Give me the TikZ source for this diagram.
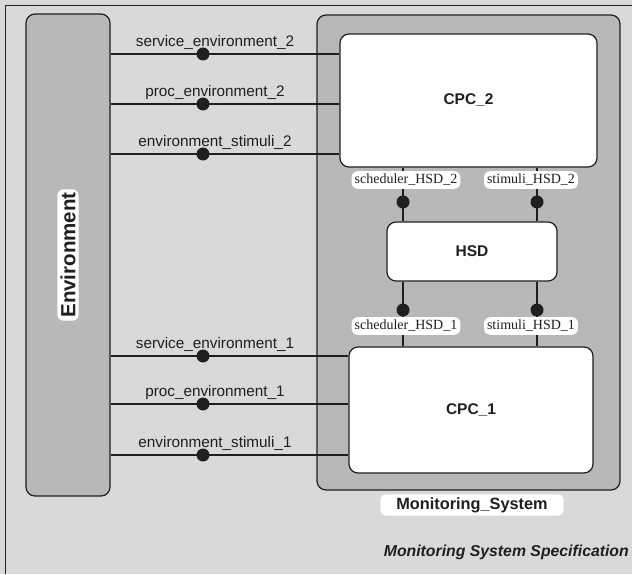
\documentclass[tikz,border=0pt]{standalone}
\usepackage{fontspec}
\setmainfont{Liberation Sans}
\newfontfamily\portfont{Liberation Serif}
\usetikzlibrary{positioning,calc}
\definecolor{paper}{gray}{0.85}
\definecolor{shade}{gray}{0.72}
\definecolor{ink}{gray}{0.12}

\begin{document}
\begin{tikzpicture}[
    x=1pt, y=1pt,
    every node/.style={
        inner sep=2pt,
        text=ink,
        font=\fontsize{15.3}{17}\selectfont
    },
    frame/.style={draw=ink, line width=1.2pt, rounded corners=9pt, fill=shade},
    block/.style={draw=ink, line width=1.2pt, rounded corners=9pt, fill=white,
        font=\fontsize{15.5}{18}\selectfont\bfseries},
    pill/.style={fill=white, rounded corners=6pt, inner sep=3pt},
    port/.style={circle, fill=ink, minimum size=13pt, inner sep=0pt},
    wire/.style={draw=ink, line width=1.3pt}
]
\useasboundingbox (0,0) rectangle (632,574);
\fill[paper] (0,0) rectangle (632,574);
\draw[ink, line width=1pt] (5,0) -- (5,568) -- (632,568);

% environment and system
\node[frame, minimum width=84pt, minimum height=482pt] (env) at (68,319) {};
\node[pill, rotate=90, font=\fontsize{20.5}{22}\selectfont\bfseries] (envlab) at (env.center) {Environment};
\node[frame, minimum width=303pt, minimum height=475pt] (mon) at (468.5,321.5) {};
\node[pill, font=\fontsize{16.3}{18}\selectfont\bfseries, inner xsep=16pt] (monlab) at (472,69) {Monitoring\_System};

% components
\node[block, minimum width=257pt, minimum height=133pt] (cpc2) at (468.5,473.5) {CPC\_2};
\node[block, minimum width=170pt, minimum height=59pt] (hsd) at (472,322.5) {HSD};
\node[block, minimum width=244pt, minimum height=126pt] (cpc1) at (471,164) {CPC\_1};

% signals to the environment
\foreach \nm/\yy/\tgt/\lab in {
    se2/520/cpc2/service\_environment\_2,
    pe2/470/cpc2/proc\_environment\_2,
    es2/420/cpc2/environment\_stimuli\_2,
    se1/218/cpc1/service\_environment\_1,
    pe1/170/cpc1/proc\_environment\_1,
    es1/119/cpc1/environment\_stimuli\_1}{
    \coordinate (\nm) at (203,\yy);
    \draw[wire] (env.east |- \nm) -- (\tgt.west |- \nm);
    \node[port] at (\nm) {};
    \node[above=2pt of \nm, xshift=12pt] (\nm lab) {\lab};
}

% signals to the HSD
\foreach \nm/\xx/\yy/\top/\bot/\lx/\ly/\lab in {
    sh2/403/372/cpc2/hsd/406/394/scheduler\_HSD\_2,
    st2/537/372/cpc2/hsd/531/394/stimuli\_HSD\_2,
    sh1/403/264/hsd/cpc1/406/248/scheduler\_HSD\_1,
    st1/537/264/hsd/cpc1/531/248/stimuli\_HSD\_1}{
    \coordinate (\nm) at (\xx,\yy);
    \draw[wire] (\top.south -| \nm) -- (\bot.north -| \nm);
    \node[pill, font=\portfont\fontsize{14}{16}\selectfont] (\nm lab) at (\lx,\ly) {\lab};
    \node[port] at (\nm) {};
}

\node[anchor=east, font=\fontsize{15.8}{18}\selectfont\bfseries\itshape] (title) at (631,22)
    {Monitoring System Specification};
\end{tikzpicture}
\end{document}
